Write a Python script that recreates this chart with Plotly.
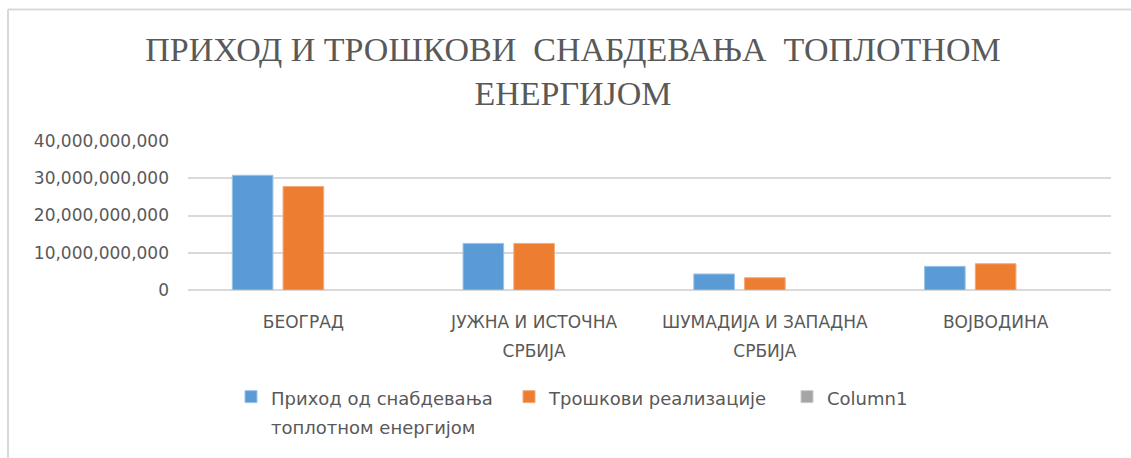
import plotly.graph_objects as go

W, H = 1131, 458

categories = ["БЕОГРАД", "ЈУЖНА И ИСТОЧНА<br>СРБИЈА", "ШУМАДИЈА И ЗАПАДНА<br>СРБИЈА", "ВОЈВОДИНА"]
category_keys = ["Београд", "Јужна и источна Србија", "Шумадија и западна Србија", "Војводина"]
income = [30.8e9, 12.5e9, 4.3e9, 6.35e9]
costs = [27.8e9, 12.5e9, 3.3e9, 7.05e9]
column1 = [None, None, None, None]
series_names = ["Приход од снабдевања<br>топлотном енергијом", "Трошкови реализације", "Column1"]
y_ticks = [0, 10e9, 20e9, 30e9, 40e9]

colors = ["#5b9bd5", "#ed7d31", "#a5a5a5"]
edge = ["#9cc3e8", "#f4a97a", "#cccccc"]

# plot area in pixels
PL, PR, PT, PB = 188, 1111, 140.7, 290
pw, ph = PR - PL, PB - PT

def px_x(x):
    return (x - PL) / pw

def px_y(y):
    return (PB - y) / ph

def spaced(text, size):
    return "<span style='font-size:%dpx'>%s</span>" % (
        size, text.replace("<br>", "</span><br><span style='font-size:%dpx'>" % size))

fig = go.Figure()
for name, vals, c, e in zip(series_names, [income, costs, column1], colors, edge):
    fig.add_trace(go.Bar(x=category_keys, y=vals, name=spaced(name, 18),
                         marker=dict(color=c, line=dict(color=e, width=1))))

ticktext = [spaced(c, 17) for c in categories]

fig.update_layout(
    width=W, height=H,
    margin=dict(l=PL, r=W - PR, t=PT, b=H - PB, autoexpand=False),
    paper_bgcolor="white", plot_bgcolor="white",
    barmode="group", bargap=0.34, bargroupgap=0.2,
    title=dict(text="ПРИХОД И ТРОШКОВИ  СНАБДЕВАЊА  ТОПЛОТНОМ<br>ЕНЕРГИЈОМ",
               x=573 / W, xref="container", xanchor="center",
               y=1 - 61 / H, yref="container", yanchor="middle",
               font=dict(family="Liberation Serif", size=34, color="#595959")),
    xaxis=dict(tickvals=category_keys, ticktext=ticktext, showgrid=False,
               tickfont=dict(family="DejaVu Sans", size=22, color="#595959"),
               ticks="", showline=False, ticklabelstandoff=15),
    yaxis=dict(range=[0, 40e9], tickvals=y_ticks, tickformat=",.0f",
               showgrid=True, gridcolor="#d9d9d9", gridwidth=1.5,
               zeroline=True, zerolinecolor="#d9d9d9", zerolinewidth=1.5,
               tickfont=dict(family="DejaVu Sans", size=17, color="#595959"),
               ticks="", showline=False, ticklabelstandoff=18),
    legend=dict(orientation="h", x=px_x(231), xanchor="left",
                y=px_y(376), yanchor="top", valign="top",
                font=dict(family="DejaVu Sans", size=22, color="#595959"),
                entrywidth=233, traceorder="normal"),
    shapes=[
        dict(type="line", xref="paper", yref="paper",
             x0=px_x(8), x1=px_x(1131), y0=px_y(9), y1=px_y(9),
             line=dict(color="#d9d9d9", width=2)),
        dict(type="line", xref="paper", yref="paper",
             x0=px_x(8), x1=px_x(8), y0=px_y(9), y1=px_y(470),
             line=dict(color="#d9d9d9", width=2)),
    ],
)

fig.write_html("out.html")
